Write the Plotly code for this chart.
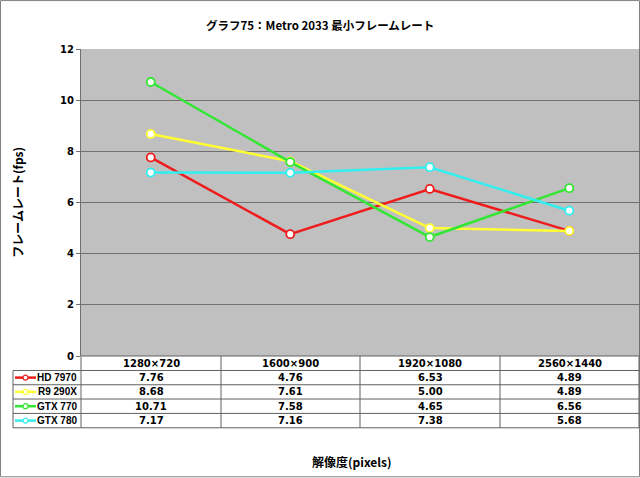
import plotly.graph_objects as go

title = "グラフ75：Metro 2033 最小フレームレート"
categories = ["1280×720", "1600×900", "1920×1080", "2560×1440"]
series_names = ["HD 7970", "R9 290X", "GTX 770", "GTX 780"]
hd7970 = [7.76, 4.76, 6.53, 4.89]
r9290x = [8.68, 7.61, 5.00, 4.89]
gtx770 = [10.71, 7.58, 4.65, 6.56]
gtx780 = [7.17, 7.16, 7.38, 5.68]
series_values = [hd7970, r9290x, gtx770, gtx780]
colors = ["#EE1C1C", "#FFFF33", "#33E633", "#33EEEE"]
y_ticks = [0, 2, 4, 6, 8, 10, 12]

W, H = 640, 478
L, R, T, B = 81, 639, 49, 356.5
FONT = "DejaVu Sans, Noto Sans CJK JP"
NFONT = "Liberation Sans, Arial, sans-serif"
JFONT = "Noto Sans CJK JP"


def X(px):
    return (px - L) / (R - L)


def Y(py):
    return (B - py) / (B - T)


fig = go.Figure()
for name, vals, col in zip(series_names, series_values, colors):
    fig.add_trace(go.Scatter(
        x=list(range(len(categories))), y=vals, name=name, mode="lines+markers",
        line=dict(color=col, width=2.5),
        marker=dict(symbol="circle", size=8, color="white", line=dict(color=col, width=1.8)),
        showlegend=False, cliponaxis=False,
    ))

shapes = []
ann = []
gray = "#808080"

# outer border
shapes.append(dict(type="rect", xref="paper", yref="paper", x0=X(0.5), x1=X(639.5), y0=Y(0.5), y1=Y(477.5),
                   line=dict(color=gray, width=1), layer="below"))

# table lines
col_edges = [L, 221, 360, 500, R]
row_edges = [B, 371, 385.3, 399.6, 414, 428.4]
for i, ry in enumerate(row_edges):
    x0 = L if i == 0 else 13
    shapes.append(dict(type="line", xref="paper", yref="paper", x0=X(x0), x1=X(R), y0=Y(ry), y1=Y(ry),
                       line=dict(color="#606060", width=1)))
for cx in col_edges:
    shapes.append(dict(type="line", xref="paper", yref="paper", x0=X(cx), x1=X(cx), y0=Y(B), y1=Y(row_edges[-1]),
                       line=dict(color="#606060", width=1)))
shapes.append(dict(type="line", xref="paper", yref="paper", x0=X(13), x1=X(13), y0=Y(371), y1=Y(row_edges[-1]),
                   line=dict(color="#606060", width=1)))

# header
for j, c in enumerate(categories):
    cx = (col_edges[j] + col_edges[j + 1]) / 2
    ann.append(dict(x=X(cx), y=Y(364), xref="paper", yref="paper", text="<b>" + c + "</b>", showarrow=False,
                    font=dict(family=FONT, size=10, color="black"), xanchor="center", yanchor="middle"))

# rows
for i, (name, vals, col) in enumerate(zip(series_names, series_values, colors)):
    ry = (row_edges[i + 1] + row_edges[i + 2]) / 2
    shapes.append(dict(type="line", xref="paper", yref="paper", x0=X(15), x1=X(36), y0=Y(ry), y1=Y(ry),
                       line=dict(color=col, width=2.5)))
    shapes.append(dict(type="circle", xref="paper", yref="paper", x0=X(23), x1=X(28), y0=Y(ry - 2.5), y1=Y(ry + 2.5),
                       line=dict(color=col, width=1.2), fillcolor="white"))
    ann.append(dict(x=X(79), y=Y(ry), xref="paper", yref="paper", text="<b>" + name + "</b>", showarrow=False,
                    font=dict(family=NFONT, size=10, color="black"), xanchor="right", yanchor="middle"))
    for j, v in enumerate(vals):
        cx = (col_edges[j] + col_edges[j + 1]) / 2
        ann.append(dict(x=X(cx), y=Y(ry), xref="paper", yref="paper", text="<b>%.2f</b>" % v, showarrow=False,
                        font=dict(family=FONT, size=10, color="black"), xanchor="center", yanchor="middle"))

# titles
ann.append(dict(x=X(320), y=Y(25), xref="paper", yref="paper", text="<b>" + title + "</b>", showarrow=False,
                font=dict(family=JFONT, size=11.5, color="black"), xanchor="center", yanchor="middle"))
ann.append(dict(x=X(18), y=Y(203), xref="paper", yref="paper", text="<b>フレームレート(fps)</b>", showarrow=False,
                textangle=-90, font=dict(family=JFONT, size=12, color="black"), xanchor="center", yanchor="middle"))
ann.append(dict(x=X(352), y=Y(462), xref="paper", yref="paper", text="<b>解像度(pixels)</b>", showarrow=False,
                font=dict(family=JFONT, size=12, color="black"), xanchor="center", yanchor="middle"))

fig.update_layout(
    width=W, height=H,
    margin=dict(l=L, r=W - R, t=T, b=H - B, pad=0),
    paper_bgcolor="white", plot_bgcolor="#C0C0C0",
    shapes=shapes, annotations=ann,
    xaxis=dict(range=[-0.5, 3.5], showticklabels=False, showgrid=False, zeroline=False,
               showline=False, fixedrange=True),
    yaxis=dict(range=[0, 12], tickvals=y_ticks, ticktext=["<b>%d</b>" % t for t in y_ticks],
               showgrid=True, gridcolor="#707070", gridwidth=1, zeroline=False,
               showline=True, linecolor="#707070", linewidth=1, mirror=True,
               ticks="outside", ticklen=4, tickcolor="#707070",
               tickfont=dict(family=FONT, size=10, color="black"), fixedrange=True),
)

fig.write_html("out.html", config={"displayModeBar": False},
               post_script="document.body.style.margin='0';document.body.style.overflow='hidden';")
